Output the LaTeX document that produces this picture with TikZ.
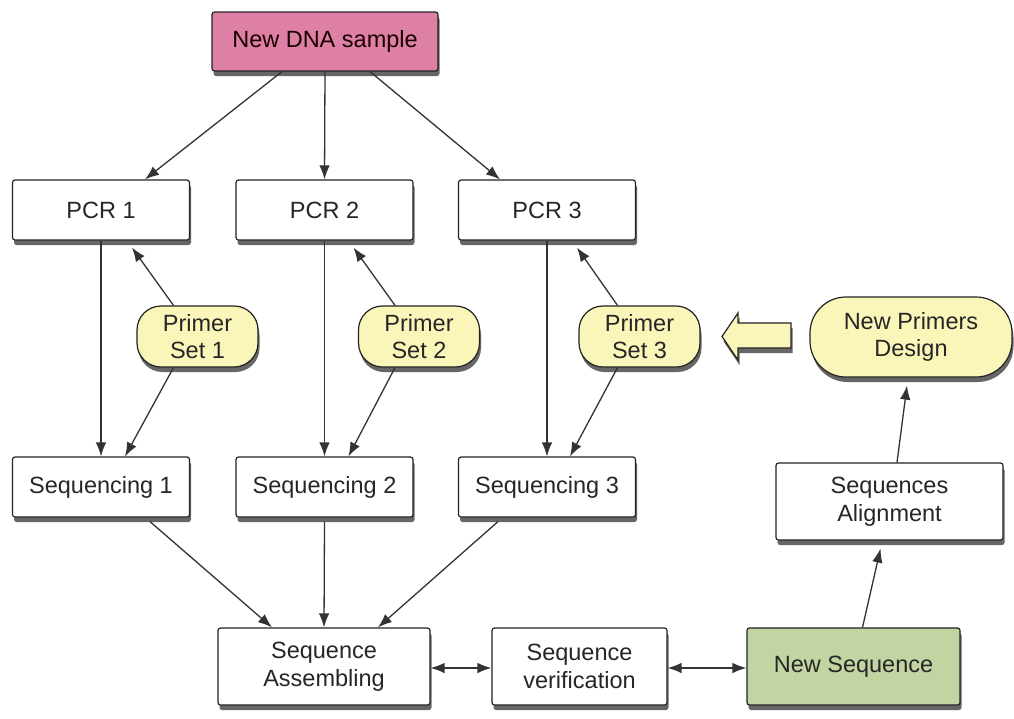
\documentclass[tikz,border=0pt]{standalone}
\usepackage{fontspec}
\setmainfont{Liberation Sans}
\usetikzlibrary{shadows,arrows.meta}
\definecolor{dnapink}{RGB}{222,128,165}
\definecolor{primeryel}{RGB}{250,246,185}
\definecolor{seqgreen}{RGB}{194,212,162}
\definecolor{edgec}{RGB}{35,35,35}
\tikzset{
  box/.style={draw=edgec, line width=1.2pt, fill=white, rounded corners=2.5pt,
    inner sep=0pt, align=center, font=\fontsize{23.5}{27.5}\selectfont, text=black!85,
    drop shadow={shadow xshift=1.5pt, shadow yshift=-5pt, fill=black!80, opacity=0.75}},
  pcrbox/.style={box, minimum width=177pt, minimum height=60pt},
  primer/.style={box, fill=primeryel, rounded corners=24pt, minimum width=121pt, minimum height=61pt},
  arr/.style={draw=black!80, line width=1.3pt, -{Latex[length=14pt,width=10.5pt]}},
  dblarr/.style={draw=black!80, line width=1.3pt, {Latex[length=14pt,width=10.5pt]}-{Latex[length=14pt,width=10.5pt]}},
  blockarr/.style={draw=edgec, line width=1.2pt, fill=primeryel, line join=miter,
    drop shadow={shadow xshift=1.5pt, shadow yshift=-5pt, fill=black!80, opacity=0.75}}
}
\begin{document}
\begin{tikzpicture}[x=1pt,y=-1pt]
\useasboundingbox[fill=white] (0,0) rectangle (1014,718);

\node[box, fill=dnapink, minimum width=226pt, minimum height=59pt, text=black!90!red] (dna) at (325,41.5) {New DNA sample};

\node[pcrbox] (pcr1) at (101,210) {PCR 1};
\node[pcrbox] (pcr2) at (324.5,210) {PCR 2};
\node[pcrbox] (pcr3) at (547,210) {PCR 3};

\node[primer] (ps1) at (197.5,336.5) {Primer\\Set 1};
\node[primer] (ps2) at (419,336.5) {Primer\\Set 2};
\node[primer] (ps3) at (639.5,336.5) {Primer\\Set 3};

\node[box, fill=primeryel, rounded corners=36pt, minimum width=202pt, minimum height=80pt] (npd) at (911,337) {New Primers\\Design};

\draw[blockarr] (791,323) -- (738,323) -- (738,313) -- (722,336.5) -- (738,360) -- (738,348) -- (791,348) -- cycle;

\node[pcrbox] (seq1) at (101,487) {Sequencing 1};
\node[pcrbox] (seq2) at (324.5,487) {Sequencing 2};
\node[pcrbox] (seq3) at (547,487) {Sequencing 3};

\node[box, minimum width=227pt, minimum height=77pt] (align) at (889.5,501.5) {Sequences\\Alignment};

\node[box, minimum width=212pt, minimum height=77pt] (asm) at (324,666.5) {Sequence\\Assembling};
\node[box, minimum width=175pt, minimum height=77pt] (ver) at (579.5,666.5) {Sequence\\verification};
\node[box, fill=seqgreen, minimum width=213pt, minimum height=77pt] (nseq) at (853.5,666.5) {New Sequence};

% top arrows
\draw[arr] ([xshift=-43pt]dna.south) -- ([xshift=44pt]pcr1.north);
\draw[arr] (dna.south) -- (pcr2.north);
\draw[arr] ([xshift=45pt]dna.south) -- ([xshift=-47pt]pcr3.north);

% PCR -> Sequencing
\draw[arr] (pcr1.south) -- (seq1.north);
\draw[arr] (pcr2.south) -- (seq2.north);
\draw[arr] (pcr3.south) -- (seq3.north);

% Primer -> PCR
\draw[arr] ([xshift=-24pt]ps1.north) -- ([xshift=31pt,yshift=-7pt]pcr1.south);
\draw[arr] ([xshift=-24pt]ps2.north) -- ([xshift=29pt,yshift=-7pt]pcr2.south);
\draw[arr] ([xshift=-22pt]ps3.north) -- ([xshift=30pt,yshift=-7pt]pcr3.south);

% Primer -> Sequencing
\draw[arr] ([xshift=-24pt]ps1.south) -- ([xshift=24pt]seq1.north);
\draw[arr] ([xshift=-24pt]ps2.south) -- ([xshift=24pt]seq2.north);
\draw[arr] ([xshift=-22pt]ps3.south) -- ([xshift=23pt]seq3.north);

% Sequencing -> Assembling
\draw[arr] ([xshift=49pt,yshift=-4pt]seq1.south) -- ([xshift=-52pt]asm.north);
\draw[arr] ([yshift=-4pt]seq2.south) -- (asm.north);
\draw[arr] ([xshift=-49pt,yshift=-4pt]seq3.south) -- ([xshift=54pt]asm.north);

% bottom row
\draw[dblarr] ([yshift=-1.5pt]asm.east) -- ([yshift=-1.5pt]ver.west);
\draw[dblarr] ([yshift=-1.5pt]ver.east) -- ([yshift=-1.5pt]nseq.west);

% right column
\draw[arr] ([xshift=9pt]nseq.north) -- ([xshift=-9pt,yshift=-8pt]align.south);
\draw[arr] ([xshift=7.5pt]align.north) -- ([xshift=-4pt,yshift=-8pt]npd.south);
\end{tikzpicture}
\end{document}
